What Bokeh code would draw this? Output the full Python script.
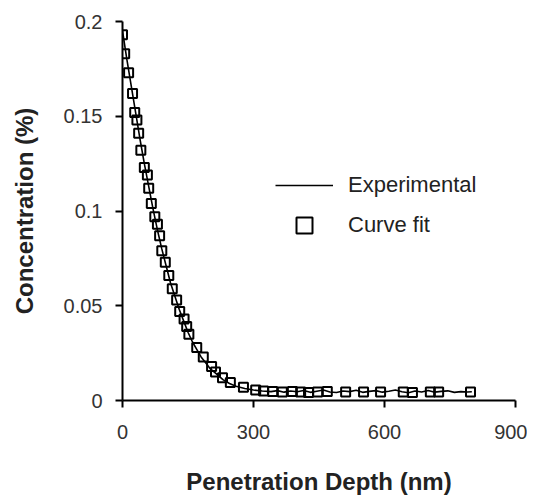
from bokeh.plotting import figure
from bokeh.models import FixedTicker, Range1d, Legend, LegendItem
from bokeh.embed import file_html
from bokeh.resources import INLINE

# Experimental profile (line)
exp_x = [0, 10, 20, 30, 40, 50, 60, 70, 80, 90, 100, 110, 120, 130, 140, 150,
         160, 170, 180, 190, 200, 215, 230, 245, 260, 280, 300, 320, 340, 355,
         370, 385, 400, 415, 430, 445, 460, 475, 490, 505, 520, 535, 550, 565,
         580, 595, 610, 625, 640, 655, 670, 685, 700, 715, 730, 745, 760, 775, 790, 800]
exp_y = [0.195, 0.180, 0.166, 0.152, 0.138, 0.125, 0.113, 0.101, 0.090, 0.080,
         0.071, 0.062, 0.055, 0.048, 0.042, 0.036, 0.031, 0.027, 0.023, 0.020,
         0.017, 0.014, 0.011, 0.009, 0.0075, 0.0063, 0.0055, 0.0050, 0.0047, 0.0052,
         0.0044, 0.0050, 0.0046, 0.0053, 0.0043, 0.0049, 0.0055, 0.0045, 0.0042, 0.0050,
         0.0047, 0.0054, 0.0043, 0.0048, 0.0052, 0.0044, 0.0049, 0.0055, 0.0046, 0.0041,
         0.0050, 0.0045, 0.0053, 0.0044, 0.0048, 0.0051, 0.0043, 0.0047, 0.0045, 0.0046]

# Curve fit points (squares)
fit_x = [0, 5, 14, 23, 28, 33, 37, 42, 50, 57, 60, 66, 74, 80, 85, 90, 98, 106,
         114, 124, 131, 141, 147, 152, 170, 185, 204, 213, 229, 247, 277, 305,
         323, 344, 366, 389, 408, 426, 447, 469, 511, 552, 591, 643, 664, 705, 724, 797]
fit_y = [0.193, 0.183, 0.173, 0.162, 0.152, 0.148, 0.141, 0.132, 0.123, 0.119,
         0.112, 0.104, 0.097, 0.093, 0.087, 0.079, 0.073, 0.066, 0.059, 0.053,
         0.047, 0.043, 0.039, 0.035, 0.028, 0.023, 0.018, 0.015, 0.012, 0.0095,
         0.007, 0.0055, 0.005, 0.0048, 0.0045, 0.0048, 0.0045, 0.0042, 0.0045, 0.0048,
         0.0045, 0.0045, 0.0045, 0.0045, 0.0042, 0.0045, 0.0045, 0.0045]

x_ticks = [0, 300, 600, 900]
y_ticks = [0, 0.05, 0.1, 0.15, 0.2]
y_tick_labels = ["0", "0.05", "0.1", "0.15", "0.2"]

p = figure(width=527, height=498, output_backend="svg", toolbar_location=None,
           x_range=Range1d(0, 900), y_range=Range1d(0, 0.2),
           min_border_left=122, min_border_right=12, min_border_top=21,
           min_border_bottom=98)
p.outline_line_color = None
p.grid.visible = False
p.background_fill_color = "white"

line_r = p.line(exp_x, exp_y, line_color="black", line_width=1.6)
sq_r = p.scatter(fit_x, fit_y, marker="square", size=9, line_color="black",
                 line_width=2, fill_alpha=0)

for ax in (p.xaxis[0], p.yaxis[0]):
    ax.axis_line_color = "black"
    ax.axis_line_width = 2
    ax.major_tick_line_color = "black"
    ax.major_tick_line_width = 2
    ax.minor_tick_line_color = None
    ax.major_tick_in = 0
    ax.major_tick_out = 7
    ax.major_label_text_font = "Liberation Sans"
    ax.major_label_text_font_size = "20px"
    ax.major_label_text_color = "#333333"
    ax.axis_label_text_font = "Liberation Sans"
    ax.axis_label_text_font_style = "bold"
    ax.axis_label_text_font_size = "24px"
    ax.axis_label_text_color = "#222222"

p.xaxis.ticker = FixedTicker(ticks=x_ticks)
p.yaxis.ticker = FixedTicker(ticks=y_ticks)
p.yaxis.major_label_overrides = {t: l for t, l in zip(y_ticks, y_tick_labels)}
p.xaxis.axis_label = "Penetration Depth (nm)"
p.yaxis.axis_label = "Concentration (%)"
p.xaxis.major_label_standoff = 17
p.yaxis.major_label_standoff = 13
p.xaxis.axis_label_standoff = 26
p.yaxis.axis_label_standoff = 23

legend = Legend(items=[LegendItem(label="Experimental", renderers=[line_r]),
                       LegendItem(label="Curve fit", renderers=[sq_r])],
                location=(153, 155), padding=0, margin=0, spacing=0,
                glyph_width=58, glyph_height=40, label_height=40,
                label_standoff=15, border_line_color=None,
                background_fill_alpha=0,
                label_text_font="Liberation Sans", label_text_font_size="22px",
                label_text_color="#222222")
p.add_layout(legend)

open("out.html", "w").write(file_html(p, INLINE))
